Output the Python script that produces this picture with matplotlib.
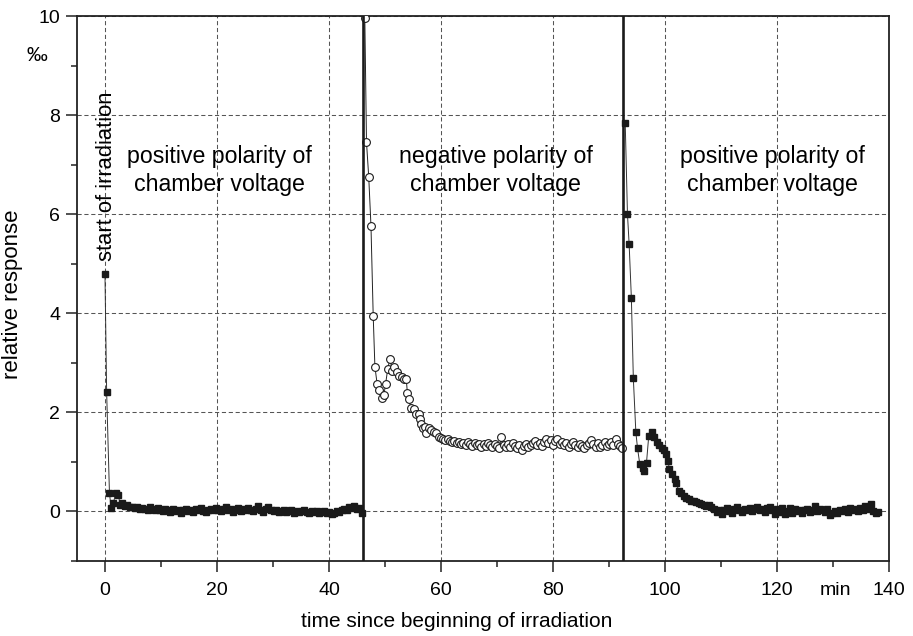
import matplotlib.pyplot as plt
from matplotlib.ticker import MultipleLocator

plt.rcParams['font.family'] = ['Liberation Sans', 'DejaVu Sans']

# first period: positive polarity (filled squares)
t_pos1 = [0.0, 0.3, 0.8, 1.1, 1.5, 1.9, 2.4, 2.7,
	3.1, 3.6, 4.0, 4.5, 4.9, 5.4, 5.8, 6.3, 6.7, 7.2, 7.6, 8.1, 8.5, 9.0, 9.4, 9.9,
	10.3, 10.8, 11.2, 11.7, 12.1, 12.6, 13.0, 13.5, 13.9, 14.4, 14.8, 15.3, 15.7, 16.2, 16.6, 17.1, 17.5, 18.0, 18.4, 18.9, 19.3, 19.8,
	20.2, 20.7, 21.1, 21.6, 22.0, 22.5, 22.9, 23.4, 23.8, 24.3, 24.7, 25.2, 25.6, 26.1, 26.5, 27.0, 27.4, 27.9, 28.3, 28.8, 29.2, 29.7,
	30.1, 30.6, 31.0, 31.5, 31.9, 32.4, 32.8, 33.3, 33.7, 34.2, 34.6, 35.1, 35.5, 36.0, 36.4, 36.9, 37.3, 37.8, 38.2, 38.7, 39.1, 39.6,
	40.0, 40.5, 40.9, 41.4, 41.8, 42.3, 42.7, 43.2, 43.6, 44.1, 44.5, 45.0, 45.4, 45.9]
r_pos1 = [4.79, 2.40, 0.37, 0.06, 0.16, 0.36, 0.33, 0.12,
	0.16, 0.10, 0.12, 0.08, 0.09, 0.06, 0.08, 0.04, 0.07, 0.05, 0.03, 0.08, 0.04, 0.02, 0.06, 0.03,
	0.01, 0.05, 0.02, -0.02, 0.04, 0.01, 0.03, -0.03, 0.02, 0.05, 0.00, 0.03, -0.01, 0.04, 0.02, 0.06, 0.01, -0.02, 0.03, 0.05, 0.02, 0.07,
	0.03, 0.00, 0.04, 0.08, 0.02, 0.05, -0.01, 0.03, 0.06, 0.01, 0.04, 0.02, 0.07, 0.03, 0.00, 0.05, 0.10, 0.02, -0.01, 0.04, 0.08, 0.03,
	0.00, 0.02, -0.02, 0.01, 0.03, -0.01, 0.00, 0.02, -0.03, 0.01, -0.02, 0.00, 0.02, -0.01, -0.04, 0.00, -0.02, 0.01, -0.03, -0.01, 0.00, -0.04,
	-0.02, -0.06, -0.03, 0.01, -0.02, 0.02, 0.05, 0.03, 0.08, 0.06, 0.10, 0.04, 0.07, -0.03]

# second period: negative polarity (open circles)
t_neg = [46.4, 46.7, 47.1, 47.5, 47.9, 48.2, 48.6, 49.0, 49.4, 49.8, 50.1, 50.5, 50.9, 51.3, 51.7, 52.1, 52.5, 53.0, 53.4, 53.8,
	54.0, 54.3, 54.6, 55.2, 55.5, 56.0, 56.25, 56.5, 56.8, 57.1, 57.4, 57.9, 58.3, 58.8, 59.2, 59.6, 60.0,
	60.4, 60.8, 61.2, 61.6, 62.0, 62.4, 62.8, 63.2, 63.6, 64.0, 64.4, 64.8, 65.2, 65.6, 66.0, 66.4, 66.8, 67.2, 67.6, 68.0,
	68.4, 68.8, 69.2, 69.6, 70.0, 70.4, 70.8, 71.2, 71.6, 72.0, 72.4, 72.8, 73.2, 73.6, 74.0, 74.4, 74.8, 75.2, 75.6, 76.0,
	76.4, 76.8, 77.2, 77.6, 78.0, 78.4, 78.8, 79.2, 79.6, 80.0, 80.4, 80.8, 81.2, 81.6, 82.0, 82.4, 82.8, 83.2, 83.6, 84.0,
	84.4, 84.8, 85.2, 85.6, 86.0, 86.4, 86.8, 87.2, 87.6, 88.0, 88.4, 88.8, 89.2, 89.6, 90.0, 90.4, 90.8, 91.2, 91.6, 92.0,
	92.4]
r_neg = [9.96, 7.45, 6.75, 5.76, 3.94, 2.92, 2.57, 2.44, 2.28, 2.34, 2.56, 2.88, 3.08, 2.83, 2.92, 2.81, 2.73, 2.70, 2.67, 2.67,
	2.39, 2.26, 2.09, 2.06, 1.97, 1.97, 1.86, 1.77, 1.68, 1.70, 1.58, 1.67, 1.64, 1.60, 1.57, 1.50, 1.48,
	1.46, 1.43, 1.45, 1.41, 1.39, 1.42, 1.37, 1.40, 1.36, 1.38, 1.34, 1.39, 1.35, 1.31, 1.37, 1.33, 1.36, 1.30, 1.35, 1.32,
	1.38, 1.34, 1.29, 1.36, 1.32, 1.28, 1.50, 1.33, 1.30, 1.35, 1.29, 1.37, 1.32, 1.27, 1.34, 1.23, 1.31, 1.36, 1.30, 1.34,
	1.38, 1.42, 1.33, 1.37, 1.31, 1.40, 1.45, 1.38, 1.43, 1.34, 1.41, 1.46, 1.36, 1.39, 1.33, 1.37, 1.30, 1.35, 1.40, 1.33,
	1.29, 1.36, 1.32, 1.27, 1.34, 1.38, 1.44, 1.35, 1.30, 1.37, 1.29, 1.33, 1.39, 1.31, 1.35, 1.40, 1.33, 1.45, 1.36, 1.32,
	1.27]

# third period: positive polarity again (filled squares)
t_pos2 = [92.9, 93.3, 93.6, 94.0, 94.35, 94.8, 95.1, 95.5, 96.0, 96.3, 96.7, 97.1, 97.6, 98.1, 98.5, 98.9, 99.4, 99.8, 100.2, 100.5,
	100.8, 101.3, 101.7, 102.0, 102.5, 102.9, 103.4, 103.8, 104.3, 104.7, 105.2, 105.6, 106.1, 106.5, 107.0, 107.4, 107.9, 108.3, 108.8, 109.2, 109.7,
	110.1, 110.6, 111.0, 111.5, 111.9, 112.4, 112.8, 113.3, 113.7, 114.2, 114.6, 115.1, 115.5, 116.0, 116.4, 116.9, 117.3, 117.8, 118.2, 118.7,
	119.1, 119.6, 120.0, 120.5, 120.9, 121.4, 121.8, 122.3, 122.7, 123.2, 123.6, 124.1, 124.5, 125.0, 125.4, 125.9, 126.3, 126.8, 127.2, 127.7,
	128.1, 128.6, 129.0, 129.5, 129.9, 130.4, 130.8, 131.3, 131.7, 132.2, 132.6, 133.1, 133.5, 134.0, 134.4, 134.9, 135.3, 135.8, 136.2, 136.7,
	137.1, 137.6, 138.0]
r_pos2 = [7.84, 6.00, 5.39, 4.30, 2.68, 1.59, 1.27, 0.95, 0.88, 0.81, 0.98, 1.52, 1.60, 1.49, 1.40, 1.33, 1.28, 1.23, 1.15, 1.02,
	0.86, 0.75, 0.66, 0.56, 0.41, 0.36, 0.30, 0.27, 0.24, 0.21, 0.20, 0.18, 0.17, 0.14, 0.12, 0.10, 0.13, 0.09, 0.04, -0.01, 0.02,
	-0.05, 0.03, 0.06, 0.01, -0.03, 0.04, 0.08, 0.02, -0.02, 0.05, 0.03, 0.07, 0.01, 0.04, 0.09, 0.02, 0.05, -0.01, 0.06, 0.08,
	0.02, -0.05, 0.04, -0.02, 0.06, -0.06, 0.01, 0.07, -0.03, 0.05, 0.00, 0.03, -0.04, 0.02, 0.05, -0.01, 0.03, 0.10, 0.01, 0.04,
	0.02, -0.02, 0.05, -0.07, -0.04, 0.01, -0.03, 0.03, 0.00, 0.04, -0.01, 0.06, 0.02, 0.05, 0.00, 0.07, 0.03, 0.10, 0.04, 0.15,
	0.01, -0.04, -0.02]

# polarity switch times
switches = [46.0, 92.55]

fig = plt.figure(figsize=(9.13, 6.36), dpi=100)
ax = fig.add_axes([0.0843, 0.1184, 0.8894, 0.8564])

ax.plot(t_pos1, r_pos1, color='#333333', lw=0.7, marker='s', ms=5, mfc='#1a1a1a', mec='#1a1a1a', zorder=3)
ax.plot(t_neg, r_neg, color='#222222', lw=0.7, marker='o', ms=5.6, mfc='white', mec='#1a1a1a', mew=0.8, zorder=3)
ax.plot(t_pos2, r_pos2, color='#333333', lw=0.7, marker='s', ms=5, mfc='#1a1a1a', mec='#1a1a1a', zorder=3)

for s in switches:
	ax.axvline(s, color='#1a1a1a', lw=1.9, zorder=4)

ax.set_xlim(-5, 140)
ax.set_ylim(-1, 10)
ax.xaxis.set_major_locator(MultipleLocator(20))
ax.xaxis.set_minor_locator(MultipleLocator(10))
ax.yaxis.set_major_locator(MultipleLocator(2))
ax.yaxis.set_minor_locator(MultipleLocator(1))
ax.tick_params(which='major', length=8, width=1.1, labelsize=14, color='#222222')
ax.tick_params(which='minor', length=4, width=1.1, color='#222222')
ax.tick_params(axis='x', which='major', pad=7)
ax.tick_params(axis='y', which='major', pad=4)
ax.grid(True, which='major', color='#555555', lw=0.75, linestyle=(0, (4, 2.6)))
for sp in ax.spines.values():
	sp.set_linewidth(1.3)
	sp.set_color('#222222')

ax.set_xlabel('time since beginning of irradiation', fontsize=15, va='center')
ax.xaxis.set_label_coords(0.468, -0.112)
ax.set_ylabel('relative response', fontsize=16, va='center')
ax.yaxis.set_label_coords(-0.079, 0.49)

ax.text(-0.049, 0.928, '‰', transform=ax.transAxes, fontsize=15, ha='center', va='center')
ax.text(130.4, -0.063, 'min', transform=ax.get_xaxis_transform(), fontsize=14, ha='center', va='baseline')

ax.text(0.2, 6.77, 'start of irradiation', rotation=90, fontsize=15.8, ha='center', va='center')
ax.text(20.5, 6.88, 'positive polarity of\nchamber voltage', fontsize=16.7, ha='center', va='center', linespacing=1.3)
ax.text(69.8, 6.88, 'negative polarity of\nchamber voltage', fontsize=16.7, ha='center', va='center', linespacing=1.3)
ax.text(119.1, 6.88, 'positive polarity of\nchamber voltage', fontsize=16.7, ha='center', va='center', linespacing=1.3)

fig.savefig('out.png', dpi=100)
